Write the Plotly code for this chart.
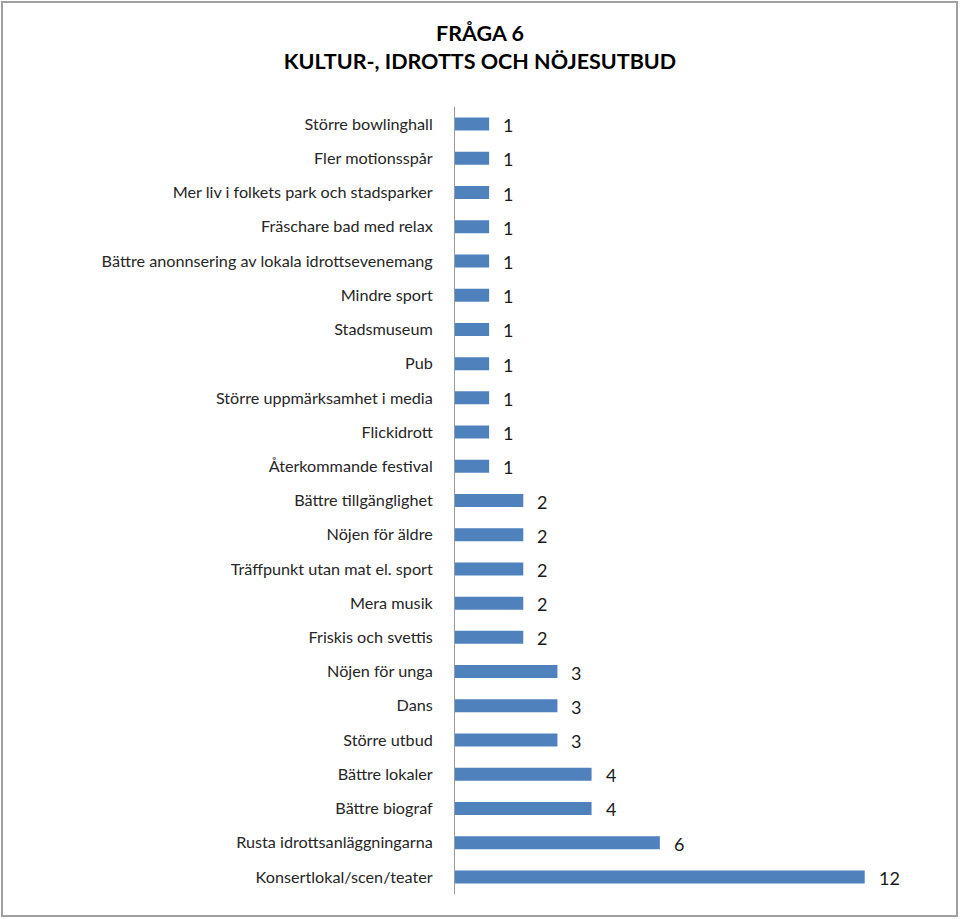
import plotly.graph_objects as go

categories = [
    "Större bowlinghall", "Fler motionsspår", "Mer liv i folkets park och stadsparker",
    "Fräschare bad med relax", "Bättre anonnsering av lokala idrottsevenemang",
    "Mindre sport", "Stadsmuseum", "Pub", "Större uppmärksamhet i media",
    "Flickidrott", "Återkommande festival", "Bättre tillgänglighet",
    "Nöjen för äldre", "Träffpunkt utan mat el. sport", "Mera musik",
    "Friskis och svettis", "Nöjen för unga", "Dans", "Större utbud",
    "Bättre lokaler", "Bättre biograf", "Rusta idrottsanläggningarna",
    "Konsertlokal/scen/teater",
]
values = [1, 1, 1, 1, 1, 1, 1, 1, 1, 1, 1, 2, 2, 2, 2, 2, 3, 3, 3, 4, 4, 6, 12]

FONT = "Lato, Carlito, Liberation Sans, sans-serif"
W, H = 960, 919
ML, MR, MT, MB = 455, 27, 107, 25

fig = go.Figure(go.Bar(
    x=values, y=categories, orientation="h",
    marker=dict(color="#4F81BD", line=dict(width=0)),
    width=0.38, hoverinfo="skip",
))

for c, v in zip(categories, values):
    fig.add_annotation(x=v, y=c, text=str(v), showarrow=False,
                       xanchor="left", xshift=12, yshift=-1,
                       font=dict(family=FONT, size=18, color="#1a1a1a"))

pw = W - ML - MR
ph = H - MT - MB
fig.add_shape(type="rect", xref="paper", yref="paper",
              x0=(2 - ML) / pw, x1=(957 - ML) / pw,
              y0=(H - MB - 916) / ph, y1=(H - MB - 2) / ph,
              line=dict(color="#A0A0A0", width=2), fillcolor="rgba(0,0,0,0)", layer="below")

fig.update_layout(
    width=W, height=H,
    margin=dict(l=ML, r=MR, t=MT, b=MB),
    paper_bgcolor="white", plot_bgcolor="white",
    showlegend=False,
    title=dict(text="<b>FRÅGA 6<br>KULTUR-, IDROTTS OCH NÖJESUTBUD</b>",
               x=0.5, xanchor="center", y=0.955, yanchor="top",
               font=dict(family=FONT, size=21.5, color="#000000")),
    xaxis=dict(range=[0, 14], visible=False, showgrid=False, zeroline=False),
    yaxis=dict(autorange="reversed", showgrid=False, zeroline=False,
               showline=True, linecolor="#9A9A9A", linewidth=1,
               ticks="", ticklabelstandoff=18,
               tickfont=dict(family=FONT, size=16.2, color="#262626")),
)

fig.write_html("out.html")
